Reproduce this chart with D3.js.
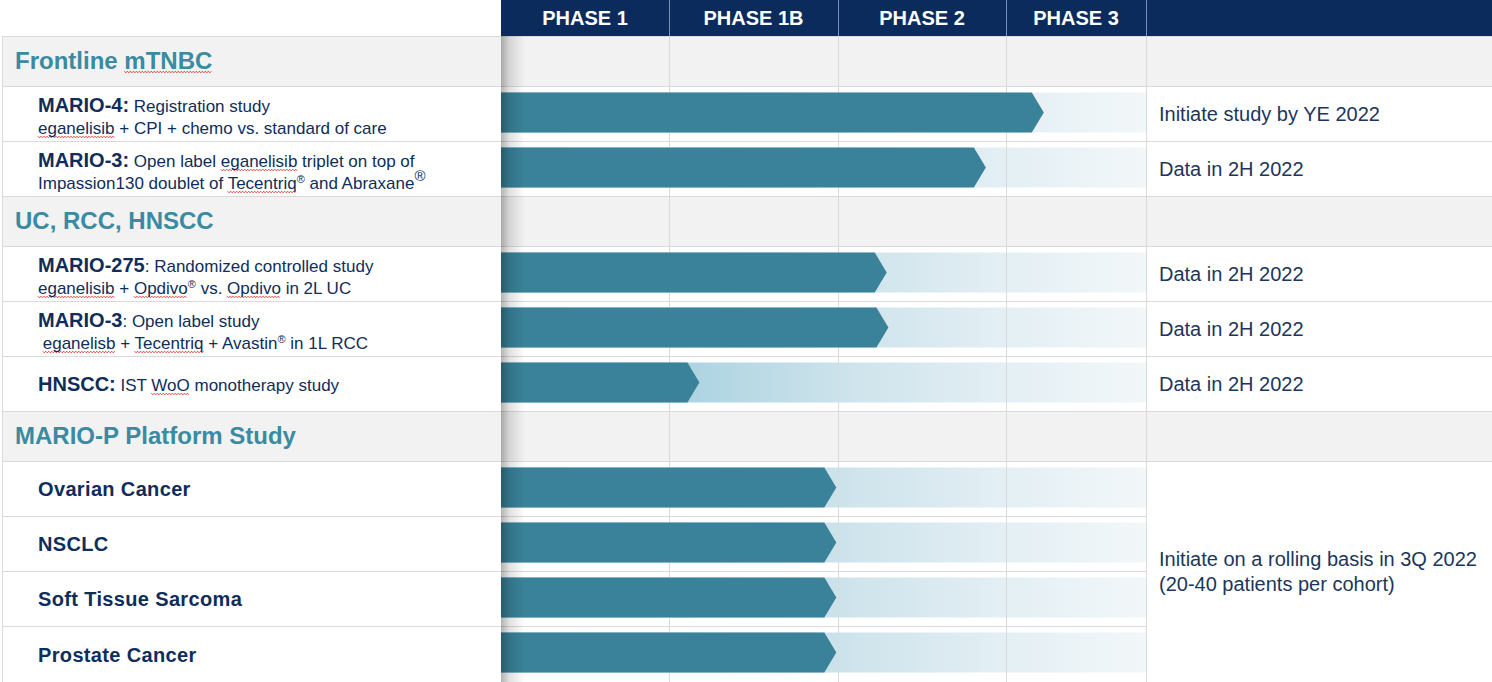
<!DOCTYPE html>
<html><head><meta charset="utf-8">
<script src="https://cdn.jsdelivr.net/npm/d3@7"></script>
<style>html,body{margin:0;padding:0;background:#fff;overflow:hidden}</style>
</head><body><svg id="c" width="1492" height="682"></svg>
<script>
// ---------------- DATA ----------------
const phases = ["PHASE 1", "PHASE 1B", "PHASE 2", "PHASE 3"];
const sections = ["Frontline mTNBC", "UC, RCC, HNSCC", "MARIO-P Platform Study"];
const programSection = [0, 0, 1, 1, 1, 2, 2, 2, 2];
const programLabels = [
  "**MARIO-4:** Registration study\neganelisib + CPI + chemo vs. standard of care",
  "**MARIO-3:** Open label eganelisib triplet on top of\nImpassion130 doublet of Tecentriq® and Abraxane^",
  "**MARIO-275**: Randomized controlled study\neganelisib + Opdivo® vs. Opdivo in 2L UC",
  "**MARIO-3**: Open label study\n eganelisb + Tecentriq + Avastin® in 1L RCC",
  "**HNSCC:** IST WoO monotherapy study",
  "**Ovarian Cancer**",
  "**NSCLC**",
  "**Soft Tissue Sarcoma**",
  "**Prostate Cancer**"
];
// progress reached, in phase units (0 = start of Phase 1, 4 = end of Phase 3)
const progress = [3.27, 2.88, 2.29, 2.30, 1.18, 1.99, 1.99, 1.99, 1.99];
const milestones = [
  "Initiate study by YE 2022",
  "Data in 2H 2022",
  "Data in 2H 2022",
  "Data in 2H 2022",
  "Data in 2H 2022",
  "Initiate on a rolling basis in 3Q 2022\n(20-40 patients per cohort)"
];
const milestoneSpan = [1, 1, 1, 1, 1, 4];
const flaggedWords = ["eganelisib", "eganelisb", "mTNBC", "Tecentriq", "Opdivo", "WoO"];

// ---------------- LAYOUT ----------------
const W = 1492, H = 682;
const FONT = "'Liberation Sans', Arial, Helvetica, sans-serif";
const headerH = 36, sectionH = 50, progH = 55;
const panelL = 2, panelR = 501, noteX = 1159;
const NAVY = "#0b2b5c", TEAL = "#3a8aa1", BAR = "#3a8299", LABEL = "#0f2d5a", NOTE = "#1b365d", GRID = "#dadada";

const svg = d3.select("#c");
const defs = svg.append("defs");

const x = d3.scaleLinear().domain([0, 1, 2, 3, 4]).range([panelR, 669, 838, 1006, 1146]);

// Build rows
const rows = [];
let yy = headerH;
sections.forEach((s, si) => {
  rows.push({type: "section", idx: si, top: yy, h: sectionH}); yy += sectionH;
  programSection.forEach((ps, pi) => {
    if (ps === si) { rows.push({type: "prog", idx: pi, top: yy, h: progH}); yy += progH; }
  });
});
rows[rows.length - 1].h = H - rows[rows.length - 1].top;
const progRows = rows.filter(r => r.type === "prog");

// gradients
const lg = defs.append("linearGradient").attr("id", "light").attr("gradientUnits", "userSpaceOnUse")
  .attr("x1", x(0)).attr("x2", x(4)).attr("y1", 0).attr("y2", 0);
[[0, "#a3cede"], [0.3, "#aed4e2"], [0.55, "#cfe4ec"], [0.78, "#e3eff4"], [1, "#f2f7f9"]]
  .forEach(([o, c]) => lg.append("stop").attr("offset", o).attr("stop-color", c));
const sg = defs.append("linearGradient").attr("id", "shadow").attr("x1", 0).attr("x2", 1).attr("y1", 0).attr("y2", 0);
sg.append("stop").attr("offset", 0).attr("stop-color", "#000").attr("stop-opacity", 0.3);
sg.append("stop").attr("offset", 0.35).attr("stop-color", "#000").attr("stop-opacity", 0.12);
sg.append("stop").attr("offset", 1).attr("stop-color", "#000").attr("stop-opacity", 0);

// section backgrounds
svg.append("g").selectAll("rect").data(rows.filter(r => r.type === "section")).join("rect")
  .attr("x", panelL).attr("y", d => d.top).attr("width", W - panelL).attr("height", d => d.h)
  .attr("fill", "#f2f2f2");

// header
svg.append("rect").attr("x", panelR).attr("y", 0).attr("width", W - panelR).attr("height", headerH).attr("fill", NAVY);
svg.append("g").selectAll("line").data([1, 2, 3, 4]).join("line")
  .attr("x1", d => x(d) + 0.5).attr("x2", d => x(d) + 0.5).attr("y1", 0).attr("y2", headerH)
  .attr("stroke", "#7b8fb0").attr("stroke-width", 1);
svg.append("g").selectAll("text").data(phases).join("text")
  .attr("x", (d, i) => (x(i) + x(i + 1)) / 2).attr("y", 25)
  .attr("text-anchor", "middle").attr("fill", "#fff")
  .style("font", `bold 20px ${FONT}`).text(d => d);

// light bars
const barY = r => r.top + 6.5, barH = 40, notch = 12;
svg.append("g").selectAll("rect").data(progRows).join("rect")
  .attr("x", x(0)).attr("y", barY).attr("width", x(4) - x(0)).attr("height", barH)
  .attr("fill", "url(#light)");

// grid lines
const grid = svg.append("g").attr("stroke", GRID).attr("stroke-width", 1);
grid.selectAll("line.v").data([1, 2, 3, 4]).join("line").attr("class", "v")
  .attr("x1", d => x(d) + 0.5).attr("x2", d => x(d) + 0.5).attr("y1", headerH).attr("y2", H);
grid.append("line").attr("x1", panelL + 0.5).attr("x2", panelL + 0.5).attr("y1", headerH).attr("y2", H);
const platformStart = progRows.find(r => programSection[r.idx] === 2);
grid.selectAll("line.h").data(rows).join("line").attr("class", "h")
  .attr("x1", panelL).attr("y1", d => d.top + 0.5).attr("y2", d => d.top + 0.5)
  .attr("x2", d => (d.type === "prog" && programSection[d.idx] === 2 && d !== platformStart) ? x(4) : W);

// dark bars (chevrons)
svg.append("g").selectAll("path").data(progRows).join("path")
  .attr("d", r => {
    const x0 = x(0), xt = x(progress[r.idx]), xb = xt - notch, y0 = barY(r), y1 = y0 + barH;
    return `M${x0},${y0}L${xb},${y0}L${xt},${y0 + barH / 2}L${xb},${y1}L${x0},${y1}Z`;
  })
  .attr("fill", BAR);

// shadow of left panel
svg.append("rect").attr("x", panelR).attr("y", headerH).attr("width", 24).attr("height", H - headerH)
  .attr("fill", "url(#shadow)");

// ---------------- TEXT HELPERS ----------------
function parseLine(str) {
  const segs = [];
  str.split("**").forEach((piece, k) => {
    const bold = k % 2 === 1;
    let buf = "";
    for (const ch of piece) {
      if (ch === "®" || ch === "^") {
        if (buf) segs.push({t: buf, bold}); buf = "";
        segs.push({t: "®", bold: false, sup: ch === "^" ? "big" : "small"});
      } else buf += ch;
    }
    if (buf) segs.push({t: buf, bold});
  });
  return segs;
}
const squiggles = svg.append("g").attr("fill", "none").attr("stroke", "#e0302a").attr("stroke-width", 0.9);
function addSquiggles(textNode, baseline) {
  const s = textNode.textContent;
  flaggedWords.forEach(w => {
    let i = s.indexOf(w);
    while (i >= 0) {
      const before = s[i - 1], after = s[i + w.length];
      const ok = (!before || !/[a-z]/i.test(before)) && (!after || !/[a-z]/i.test(after));
      if (ok) {
        const x0 = textNode.getStartPositionOfChar(i).x;
        const x1 = textNode.getEndPositionOfChar(i + w.length - 1).x;
        const pts = [];
        let up = true;
        for (let xx = x0; xx <= x1; xx += 1.5) { pts.push([xx, baseline + 3 + (up ? -0.8 : 0.8)]); up = !up; }
        squiggles.append("path").attr("d", d3.line()(pts));
      }
      i = s.indexOf(w, i + 1);
    }
  });
}
function drawRich(g, str, x0, baseline, opts) {
  const t = g.append("text").attr("x", x0).attr("y", baseline)
    .style("white-space", "pre").attr("fill", opts.fill)
    .style("font-family", FONT);
  if (opts.spacing) t.style("letter-spacing", opts.spacing + "px");
  let shift = 0;
  parseLine(str).forEach(seg => {
    const ts = t.append("tspan").text(seg.t);
    if (seg.sup) {
      const up = seg.sup === "big" ? -8 : -6;
      ts.attr("dy", up - shift).style("font-size", seg.sup === "big" ? "15px" : "11px");
      shift = up;
    } else {
      if (shift !== 0) { ts.attr("dy", -shift); shift = 0; }
      ts.style("font-size", seg.bold ? opts.boldSize + "px" : opts.size + "px")
        .style("font-weight", seg.bold ? "bold" : "normal");
    }
  });
  addSquiggles(t.node(), baseline);
  return t;
}

// ---------------- TEXTS ----------------
const tg = svg.append("g");
rows.filter(r => r.type === "section").forEach(r => {
  drawRich(tg, "**" + sections[r.idx] + "**", 15, r.top + r.h / 2 + 8, {fill: TEAL, size: 24, boldSize: 24});
});
progRows.forEach(r => {
  const lines = programLabels[r.idx].split("\n");
  const c = r.top + r.h / 2;
  const platform = programSection[r.idx] === 2;
  if (lines.length === 1) {
    drawRich(tg, lines[0], 38, c + 7.5, {fill: LABEL, size: 17, boldSize: 20, spacing: platform ? 0.35 : 0});
  } else {
    drawRich(tg, lines[0], 38, c - 1.5, {fill: LABEL, size: 17, boldSize: 20});
    drawRich(tg, lines[1], 38, c + 20.5, {fill: LABEL, size: 17, boldSize: 20});
  }
});
// milestones
let pIdx = 0;
milestones.forEach((m, i) => {
  const span = progRows.slice(pIdx, pIdx + milestoneSpan[i]);
  pIdx += milestoneSpan[i];
  const top = span[0].top, bot = span[span.length - 1].top + span[span.length - 1].h;
  const c = (top + bot) / 2;
  const lines = m.split("\n");
  const lh = 25;
  lines.forEach((ln, k) => {
    tg.append("text").attr("x", noteX).attr("y", c + 7 + (k - (lines.length - 1) / 2) * lh)
      .attr("fill", NOTE).style("font", `20px ${FONT}`).text(ln);
  });
});
</script></body></html>
